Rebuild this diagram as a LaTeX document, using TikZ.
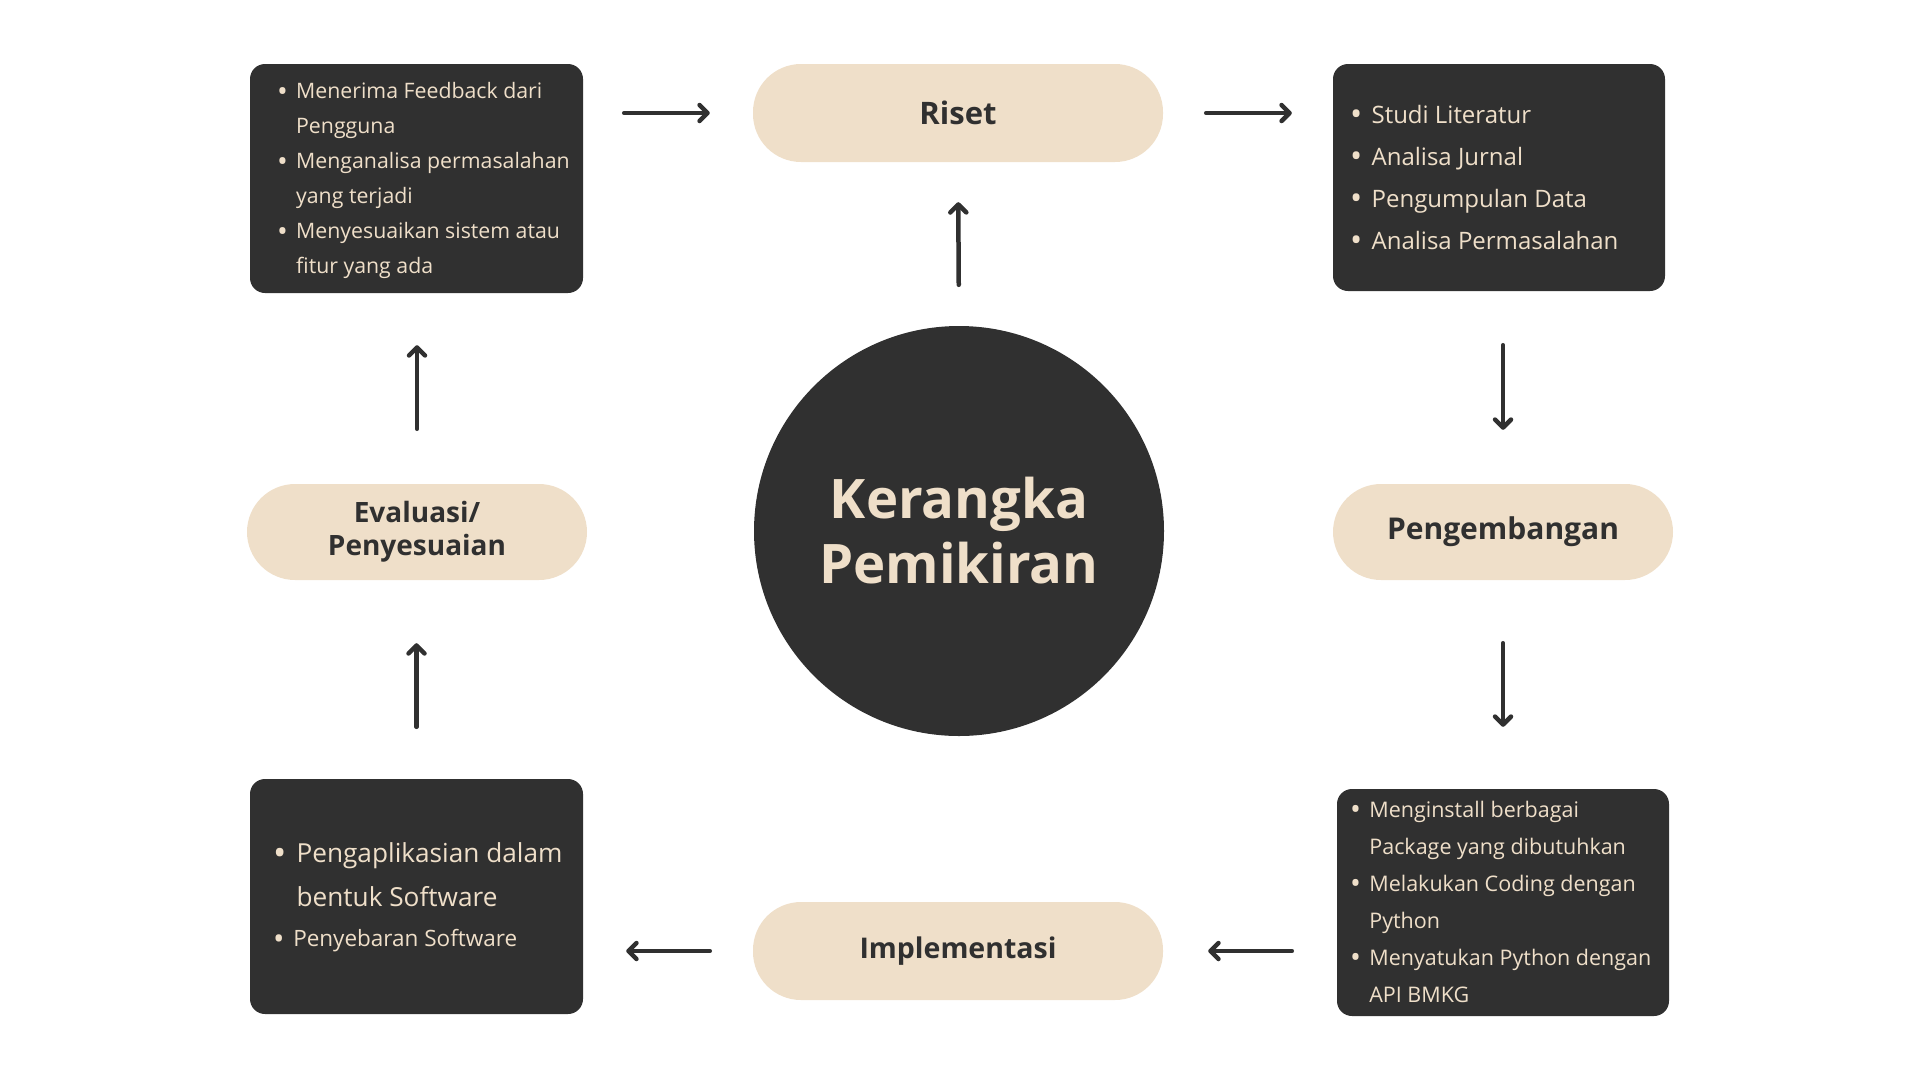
\documentclass[tikz,border=0pt]{standalone}
\usepackage{fontspec}
\setmainfont{Open Sans}
\usepackage{tikz}
\usetikzlibrary{arrows.meta,positioning}

\definecolor{gelap}{HTML}{303030}
\definecolor{krem}{HTML}{EFDFC9}

\newlength{\kiri}
\newcommand{\titik}{\raisebox{-0.1em}{\scalebox{1.35}{\textbullet}}}
\newcommand{\butir}[1]{\par\noindent\leftskip=\kiri\spaceskip=0pt\xspaceskip=0pt\hangindent=0.9em\hangafter=1\makebox[0.9em][l]{\titik}#1\par}

\tikzset{
  kotak/.style={fill=gelap, text=krem, rounded corners=15pt, align=left, inner xsep=0pt, inner ysep=-20pt,
    execute at end node={\par\vspace*{#1}}},
  kotak/.default=22pt,
  pil/.style={fill=krem, text=gelap, rounded corners=48pt, align=center, font=\bfseries\fontsize{28}{33}\selectfont},
  panah/.style={draw=gelap, line width=4.5pt, line cap=round, -{Straight Barb[length=8pt,width=16pt,round]}}
}

\begin{document}
\begin{tikzpicture}[x=1pt,y=-1pt]
\useasboundingbox (0,0) rectangle (1920,1080);

\node (pusat) [circle, fill=gelap, minimum size=410pt, text=krem, align=center, font=\bfseries\fontsize{54.5}{65}\selectfont] at (959,531) {Kerangka\\Pemikiran};

\path (958,113) node (riset) [pil, minimum width=410pt, minimum height=98pt, font=\bfseries\fontsize{31}{33}\selectfont] {Riset};
\path (417,532) node (evaluasi) [pil, minimum width=340pt, minimum height=96pt] {Evaluasi/\\Penyesuaian};
\path (1503,532) node (kembang) [pil, minimum width=340pt, minimum height=96pt, font=\bfseries\fontsize{30}{33}\selectfont] {Pengembangan};
\path (958,951) node (implementasi) [pil, minimum width=410pt, minimum height=98pt, font=\bfseries\fontsize{28.5}{33}\selectfont] {Implementasi};

\path (416.5,178.5) node (umpan) [kotak=14pt, minimum height=229pt, text width=333pt, font=\fontsize{21.3}{35}\selectfont\setlength{\kiri}{27pt}] {%
\butir{Menerima Feedback dari\newline Pengguna}
\butir{Menganalisa permasalahan\newline yang terjadi}
\butir{Menyesuaikan sistem atau\newline fitur yang ada}};

\path (1499,177.5) node (studi) [kotak, minimum height=227pt, text width=332pt, font=\fontsize{24}{42}\selectfont\setlength{\kiri}{17pt}] {%
\butir{Studi Literatur}
\butir{Analisa Jurnal}
\butir{Pengumpulan Data}
\butir{Analisa Permasalahan}};

\path (1503,902.5) node (instal) [kotak, minimum height=227pt, text width=332pt, font=\fontsize{21.5}{37}\selectfont\setlength{\kiri}{13pt}] {%
\butir{Menginstall berbagai\newline Package yang dibutuhkan}
\butir{Melakukan Coding dengan\newline Python}
\butir{Menyatukan Python dengan\newline API BMKG}};

\path (416.5,896.5) node (aplikasi) [kotak, minimum height=235pt, text width=333pt, font=\fontsize{22.5}{40}\selectfont\setlength{\kiri}{23pt}] {%
{\fontsize{26.2}{44}\selectfont\butir{Pengaplikasian dalam\newline bentuk Software}}
{\fontsize{22.5}{40}\selectfont\butir{Penyebaran Software}}};

% alur searah jarum jam
\draw[panah, shorten <=41pt, shorten >=43pt] (umpan.east |- riset.west) -- (riset.west);
\draw[panah, shorten <=43pt, shorten >=41pt] (riset.east) -- (riset.east -| studi.west);
\draw[panah, shorten <=41pt, shorten >=40pt] (pusat.north) -- (riset.south);
\draw[panah, shorten <=54pt, shorten >=54pt] (kembang.north |- studi.south) -- (kembang.north);
\draw[panah, shorten <=63pt, shorten >=62pt] (kembang.south) -- (kembang.south |- instal.north);
\draw[panah, shorten <=45pt, shorten >=45pt] (instal.west |- implementasi.east) -- (implementasi.east);
\draw[panah, shorten <=43pt, shorten >=43pt] (implementasi.west) -- (implementasi.west -| aplikasi.east);
\draw[panah, shorten <=52pt, shorten >=63pt] (aplikasi.north) -- (aplikasi.north |- evaluasi.south);
\draw[panah, shorten <=55pt, shorten >=52pt] (evaluasi.north) -- (evaluasi.north |- umpan.south);

\end{tikzpicture}
\end{document}
